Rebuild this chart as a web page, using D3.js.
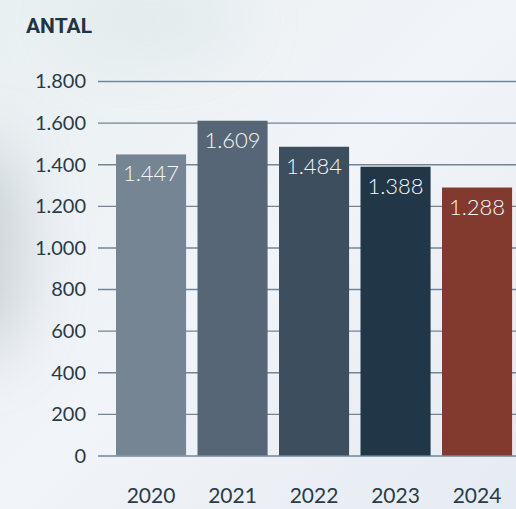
<!DOCTYPE html>
<html>
<head>
<meta charset="utf-8">
<script src="https://cdn.jsdelivr.net/npm/d3@7"></script>
<style>
  html, body { margin: 0; padding: 0; }
  body { width: 516px; height: 509px; overflow: hidden; }
</style>
</head>
<body>
<div id="chart"></div>
<script>
// data
const years = ["2020", "2021", "2022", "2023", "2024"];
const counts = [1447, 1609, 1484, 1388, 1288];
const barColors = ["#768593", "#566676", "#3d4e5e", "#213646", "#833a2e"];
const yTicks = [0, 200, 400, 600, 800, 1000, 1200, 1400, 1600, 1800];

const W = 516, H = 509;
const fmt = d3.formatLocale({ decimal: ",", thousands: ".", grouping: [3] }).format(",d");

const svg = d3.select("#chart").append("svg")
  .attr("width", W)
  .attr("height", H);

// background: pale blue-white with a soft grey smudge on the left
const defs = svg.append("defs");
const bg = defs.append("linearGradient").attr("id", "bg")
  .attr("x1", 0).attr("y1", 0).attr("x2", 1).attr("y2", 1);
bg.append("stop").attr("offset", 0).attr("stop-color", "#e9f0f1");
bg.append("stop").attr("offset", 0.5).attr("stop-color", "#f1f4f8");
bg.append("stop").attr("offset", 1).attr("stop-color", "#e5ebf2");
const blur = defs.append("filter").attr("id", "blur")
  .attr("x", -1).attr("y", -1).attr("width", 3).attr("height", 3);
blur.append("feGaussianBlur").attr("stdDeviation", 30);

svg.append("rect").attr("width", W).attr("height", H).attr("fill", "url(#bg)");
svg.append("ellipse")
  .attr("cx", -20).attr("cy", 250).attr("rx", 45).attr("ry", 110)
  .attr("fill", "#c3cacf").attr("opacity", 0.8)
  .attr("filter", "url(#blur)");
svg.append("ellipse")
  .attr("cx", 150).attr("cy", 20).attr("rx", 90).attr("ry", 40)
  .attr("fill", "#dfe8e9").attr("opacity", 0.7)
  .attr("filter", "url(#blur)");

// first bar edge at 116, step ~81.5, bars 70 wide
const x = d3.scaleBand()
  .domain(years)
  .range([116, 116 + 81.5 * 5 - 81.5 * 0.14])
  .paddingInner(0.14)
  .paddingOuter(0);

const y = d3.scaleLinear()
  .domain([0, 1800])
  .range([455.5, 81]);

// grid
const grid = svg.append("g")
  .attr("transform", "translate(98,0)")
  .call(d3.axisRight(y).tickValues(yTicks).tickSize(W - 98).tickFormat(""));
grid.select(".domain").remove();
grid.selectAll("line")
  .attr("stroke", "#6f8699")
  .attr("stroke-width", 1.4);

// y labels
const yAxis = svg.append("g")
  .attr("transform", "translate(98,0)")
  .call(d3.axisLeft(y).tickValues(yTicks).tickSize(0).tickPadding(12).tickFormat(fmt));
yAxis.select(".domain").remove();
yAxis.selectAll("text")
  .attr("dy", "0.34em")
  .attr("fill", "#2a3b48")
  .style("font-family", "Lato, 'Open Sans', sans-serif")
  .style("font-weight", 400)
  .style("font-size", "20px");

// bars
svg.selectAll("rect.bar")
  .data(counts)
  .join("rect")
  .attr("class", "bar")
  .attr("x", (d, i) => x(years[i]))
  .attr("y", d => y(d))
  .attr("width", x.bandwidth())
  .attr("height", d => y(0) - y(d))
  .attr("fill", (d, i) => barColors[i]);

// value labels
svg.selectAll("text.val")
  .data(counts)
  .join("text")
  .attr("class", "val")
  .attr("x", (d, i) => x(years[i]) + x.bandwidth() / 2)
  .attr("y", d => y(d) + 27)
  .attr("text-anchor", "middle")
  .attr("fill", "#f4f6f8")
  .style("font-family", "Lato, 'Open Sans', sans-serif")
  .style("font-weight", 300)
  .style("font-size", "22px")
  .text(d => fmt(d));

// x labels
const xAxis = svg.append("g")
  .attr("transform", "translate(0,455)")
  .call(d3.axisBottom(x).tickSize(0).tickPadding(0));
xAxis.select(".domain").remove();
xAxis.selectAll("text")
  .attr("y", 48)
  .attr("dy", 0)
  .attr("fill", "#2a3b48")
  .style("font-family", "Lato, 'Open Sans', sans-serif")
  .style("font-weight", 400)
  .style("font-size", "21px");

// title
svg.append("text")
  .attr("x", 26)
  .attr("y", 33)
  .attr("fill", "#1f3444")
  .style("font-family", "Roboto, 'Liberation Sans', sans-serif")
  .style("font-weight", 700)
  .style("font-size", "21px")
  .text("ANTAL");
</script>
</body>
</html>
